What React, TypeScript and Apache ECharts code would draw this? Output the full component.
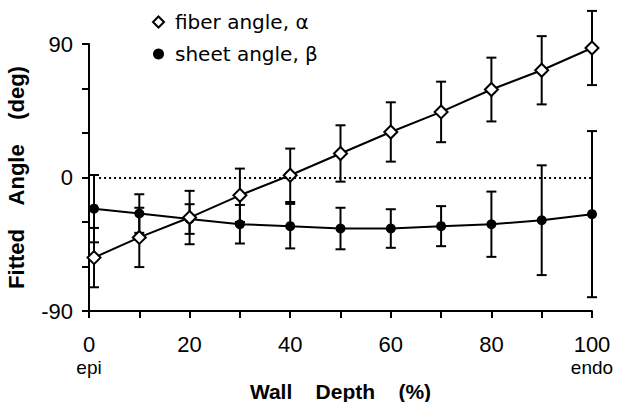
import React, { useEffect, useRef } from "react";
import * as echarts from "echarts";

const depth = [1, 10, 20, 30, 40, 50, 60, 70, 80, 90, 100];
const fiberAngle = [-54, -40.4, -27, -12, 1.5, 16.2, 30.7, 44.2, 59.3, 72.3, 87.3];
const fiberSD = [20, 20, 18, 18, 18, 19, 20, 20.4, 21.5, 23, 25];
const sheetAngle = [-21, -24.3, -28, -31.5, -32.8, -34.4, -34.4, -32.8, -31.5, -28.8, -24.7];
const sheetSD = [22.7, 13, 10, 13, 15, 14, 13, 13.5, 22, 37, 56];
const yTickLabels = [-90, 0, 90];
const xTickLabels = [0, 20, 40, 60, 80, 100];
const xEndLabels: Record<number, string> = { 0: "epi", 100: "endo" };

const FONT = "Liberation Sans";

function errorSeries(name: string, values: number[], sd: number[]) {
  return {
    type: "custom",
    name: name + " error",
    clip: false,
    silent: true,
    z: 1,
    encode: { x: 0, y: [1, 2] },
    data: depth.map((d, i) => [d, values[i] - sd[i], values[i] + sd[i]]),
    renderItem: (params: any, api: any) => {
      const x = api.value(0);
      const pLo = api.coord([x, api.value(1)]);
      const pHi = api.coord([x, api.value(2)]);
      const w = 5;
      const st = { stroke: "#000", lineWidth: 2 };
      return {
        type: "group",
        children: [
          { type: "line", shape: { x1: pHi[0], y1: pHi[1], x2: pLo[0], y2: pLo[1] }, style: st },
          { type: "line", shape: { x1: pHi[0] - w, y1: pHi[1], x2: pHi[0] + w, y2: pHi[1] }, style: st },
          { type: "line", shape: { x1: pLo[0] - w, y1: pLo[1], x2: pLo[0] + w, y2: pLo[1] }, style: st },
        ],
      };
    },
  };
}

export default function App() {
  const ref = useRef<HTMLDivElement>(null);
  useEffect(() => {
    document.body.style.margin = "0";
    const chart = echarts.init(ref.current!, null, { renderer: "svg" });
    chart.setOption({
      animation: false,
      backgroundColor: "#fff",
      textStyle: { fontFamily: FONT, color: "#000" },
      grid: { left: 89, right: 32, top: 44, bottom: 91, containLabel: false, outerBoundsMode: "none" },
      legend: {
        orient: "vertical",
        left: 147,
        top: 6,
        itemWidth: 11,
        itemHeight: 11,
        itemGap: 10,
        selectedMode: false,
        textStyle: { fontFamily: "DejaVu Sans", fontSize: 20, color: "#000", lineHeight: 22, padding: [0, 0, 0, 6] },
        data: [
          { name: "fiber angle, α", icon: "diamond" },
          { name: "sheet angle, β", icon: "circle" },
        ],
      },
      xAxis: {
        type: "value",
        min: 0,
        max: 100,
        interval: 10,
        name: "Wall    Depth    (%)",
        nameLocation: "middle",
        nameGap: 57,
        nameTextStyle: { fontFamily: FONT, fontSize: 21, fontWeight: "bold", color: "#000" },
        axisLine: { show: true, onZero: false, lineStyle: { color: "#000", width: 2 } },
        axisTick: { show: true, length: 7, lineStyle: { color: "#000", width: 2 } },
        splitLine: { show: false },
        axisLabel: {
          margin: 21,
          color: "#000",
          formatter: (v: number) => {
            if (!xTickLabels.includes(v)) return "";
            const sub = xEndLabels[v];
            return sub ? `{a|${v}}\n{b|${sub}}` : `{a|${v}}`;
          },
          rich: {
            a: { fontFamily: FONT, fontSize: 22, lineHeight: 24, color: "#000" },
            b: { fontFamily: FONT, fontSize: 19, lineHeight: 22, color: "#000" },
          },
        },
      },
      yAxis: {
        type: "value",
        min: -90,
        max: 90,
        interval: 30,
        name: "Fitted    Angle    (deg)",
        nameLocation: "middle",
        nameGap: 62,
        nameTextStyle: { fontFamily: FONT, fontSize: 22, fontWeight: "bold", color: "#000" },
        axisLine: { show: true, onZero: false, lineStyle: { color: "#000", width: 2 } },
        axisTick: { show: true, length: 7, lineStyle: { color: "#000", width: 2 } },
        splitLine: { show: false },
        axisLabel: {
          margin: 16,
          fontSize: 22,
          color: "#000",
          formatter: (v: number) => (yTickLabels.includes(v) ? String(v) : ""),
        },
      },
      series: [
        errorSeries("fiber angle, α", fiberAngle, fiberSD),
        errorSeries("sheet angle, β", sheetAngle, sheetSD),
        {
          type: "line",
          name: "sheet angle, β",
          z: 3,
          data: depth.map((d, i) => [d, sheetAngle[i]]),
          symbol: "circle",
          symbolSize: 10,
          itemStyle: { color: "#000" },
          lineStyle: { color: "#000", width: 2 },
          markLine: {
            silent: true,
            symbol: ["none", "none"],
            label: { show: false },
            lineStyle: { color: "#000", width: 2, type: [2, 3] },
            data: [[{ coord: [2, 0] }, { coord: [100, 0] }]],
          },
        },
        {
          type: "line",
          name: "fiber angle, α",
          z: 4,
          data: depth.map((d, i) => [d, fiberAngle[i]]),
          symbol: "diamond",
          symbolSize: 13,
          itemStyle: { color: "#fff", borderColor: "#000", borderWidth: 2 },
          lineStyle: { color: "#000", width: 2 },
        },
      ],
    });
    return () => chart.dispose();
  }, []);
  return <div ref={ref} style={{ width: 624, height: 402 }} />;
}
